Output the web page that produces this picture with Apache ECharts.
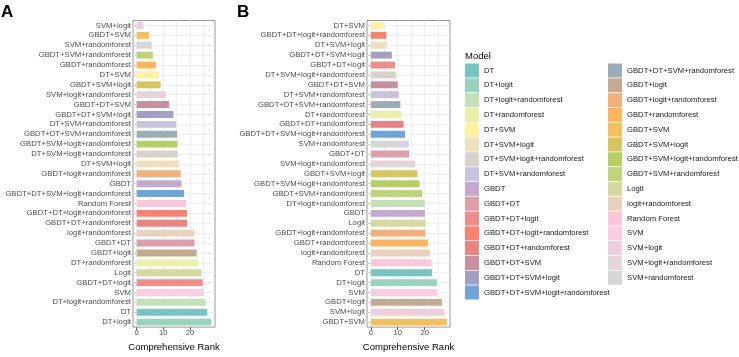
<!DOCTYPE html>
<html>
<head>
<meta charset="utf-8">
<script src="https://cdn.jsdelivr.net/npm/echarts@6/dist/echarts.min.js"></script>
<style>html,body{margin:0;padding:0;background:#fff}#c{width:739px;height:357px}</style>
</head>
<body>
<div id="c"></div>
<script>
// ---- Data ----
const modelsCol1 = ['DT','DT+logit','DT+logit+randomforest','DT+randomforest','DT+SVM','DT+SVM+logit',
  'DT+SVM+logit+randomforest','DT+SVM+randomforest','GBDT','GBDT+DT','GBDT+DT+logit',
  'GBDT+DT+logit+randomforest','GBDT+DT+randomforest','GBDT+DT+SVM','GBDT+DT+SVM+logit',
  'GBDT+DT+SVM+logit+randomforest'];
const modelsCol2 = ['GBDT+DT+SVM+randomforest','GBDT+logit','GBDT+logit+randomforest','GBDT+randomforest',
  'GBDT+SVM','GBDT+SVM+logit','GBDT+SVM+logit+randomforest','GBDT+SVM+randomforest','Logit',
  'logit+randomforest','Random Forest','SVM','SVM+logit','SVM+logit+randomforest','SVM+randomforest'];

// Panel A (top to bottom)
const catsA = ['SVM+logit','GBDT+SVM','SVM+randomforest','GBDT+SVM+randomforest','GBDT+randomforest','DT+SVM',
  'GBDT+SVM+logit','SVM+logit+randomforest','GBDT+DT+SVM','GBDT+DT+SVM+logit','DT+SVM+randomforest',
  'GBDT+DT+SVM+randomforest','GBDT+SVM+logit+randomforest','DT+SVM+logit+randomforest','DT+SVM+logit',
  'GBDT+logit+randomforest','GBDT','GBDT+DT+SVM+logit+randomforest','Random Forest',
  'GBDT+DT+logit+randomforest','GBDT+DT+randomforest','logit+randomforest','GBDT+DT','GBDT+logit',
  'DT+randomforest','Logit','GBDT+DT+logit','SVM','DT+logit+randomforest','DT','DT+logit'];
const valsA = [2.5,4.6,5.6,6.1,7.2,8.4,9.0,10.9,12.2,13.8,14.8,15.2,15.3,15.4,15.9,16.5,16.8,17.8,18.6,
  18.9,19.0,21.5,21.7,22.5,23.0,24.3,24.8,25.2,25.9,26.5,28.0];

// Panel B (top to bottom)
const catsB = ['DT+SVM','GBDT+DT+logit+randomforest','DT+SVM+logit','GBDT+DT+SVM+logit','GBDT+DT+logit',
  'DT+SVM+logit+randomforest','GBDT+DT+SVM','DT+SVM+randomforest','GBDT+DT+SVM+randomforest',
  'DT+randomforest','GBDT+DT+randomforest','GBDT+DT+SVM+logit+randomforest','SVM+randomforest','GBDT+DT',
  'SVM+logit+randomforest','GBDT+SVM+logit','GBDT+SVM+logit+randomforest','GBDT+SVM+randomforest',
  'DT+logit+randomforest','GBDT','Logit','GBDT+logit+randomforest','GBDT+randomforest','logit+randomforest',
  'Random Forest','DT','DT+logit','SVM','GBDT+logit','SVM+logit','GBDT+SVM'];
const valsB = [4.8,5.8,6.0,7.8,9.0,9.3,10.0,10.4,11.0,11.4,12.2,12.7,14.1,14.3,16.5,17.3,18.1,19.1,
  20.0,20.1,20.4,20.3,21.2,22.0,22.6,22.7,24.6,24.6,26.4,27.3,28.3];

const xTicks = [0, 10, 20];
const gridVals = [0, 5, 10, 15, 20, 25];

// ---- Styles ----
const colorsCol1 = ['#76c5c0','#98d3bd','#c2e2b5','#eaf0a8','#fff19d','#efe0bd','#d6d3c8','#c7c3dd',
  '#c3a9cf','#dc9fa8','#f08c8a','#fa8070','#ea8384','#c8909e','#a29fc0','#6ea6da'];
const colorsCol2 = ['#9dadb8','#c3ab92','#f4b07a','#fdb45c','#f3c05c','#d7c65e','#b4d064','#bcd57a',
  '#d8d7a0','#e9d2bb','#fdc6dc','#fccde0','#efcfdc','#e4d4dc','#d6d6d6'];
const colorOf = {};
modelsCol1.forEach((m,i)=>colorOf[m]=colorsCol1[i]);
modelsCol2.forEach((m,i)=>colorOf[m]=colorsCol2[i]);

const FONT = "'Liberation Sans', Arial, sans-serif";
const chart = echarts.init(document.getElementById('c'), null, {renderer:'canvas'});

function xAxisDef(idx){
  return {
    type:'value', gridIndex: idx, min:-1.4, max:29.4,
    axisLine:{show:false},
    splitLine:{show:false},
    axisTick:{show:true, length:3, customValues:xTicks, lineStyle:{color:'#333', width:0.8}},
    axisLabel:{customValues:xTicks, fontSize:7.7, color:'#4d4d4d', margin:2, fontFamily:FONT},
    name:'Comprehensive Rank', nameLocation:'middle', nameGap:14.5,
    nameTextStyle:{fontSize:9.5, color:'#000', fontFamily:FONT}
  };
}
function yAxisDef(idx, cats){
  return {
    type:'category', gridIndex: idx, data: cats, inverse:true,
    axisLine:{show:false},
    axisTick:{show:true, length:3, alignWithLabel:true, lineStyle:{color:'#333', width:0.8}},
    axisLabel:{fontSize:7.7, color:'#4d4d4d', margin:2, fontFamily:FONT, interval:0},
    splitLine:{show:false}
  };
}
function barSeries(idx, cats, vals){
  const gl = gridVals.map(v=>({xAxis:v}));
  const hl = cats.map(c=>({yAxis:c}));
  return {
    type:'bar', xAxisIndex: idx, yAxisIndex: idx, z:2,
    barCategoryGap:'30%',
    data: vals.map((v,i)=>({value:v, itemStyle:{color:colorOf[cats[i]]}})),
    animation:false,
    markLine:{
      silent:true, symbol:'none', z:1, animation:false,
      label:{show:false},
      lineStyle:{color:'#ebebeb', width:0.8, type:'solid'},
      emphasis:{disabled:true},
      data: gl.concat(hl)
    }
  };
}

const dummy = modelsCol1.concat(modelsCol2).map(m=>({
  type:'line', name:m, data:[], xAxisIndex:0, yAxisIndex:0,
  itemStyle:{color:colorOf[m]}, lineStyle:{color:colorOf[m]}, animation:false
}));

const legendBase = {
  orient:'vertical', icon:'rect', itemWidth:14, itemHeight:14, itemGap:0.8, padding:0,
  selectedMode:false, textStyle:{fontSize:7.7, color:'#1a1a1a', fontFamily:FONT}
};

chart.setOption({
  animation:false,
  textStyle:{fontFamily:FONT},
  grid:[
    {left:133, top:20.5, width:82, height:311.5, show:true, borderColor:'#7f7f7f', borderWidth:0.8, containLabel:false},
    {left:367, top:20.5, width:83, height:311.5, show:true, borderColor:'#7f7f7f', borderWidth:0.8, containLabel:false}
  ],
  xAxis:[xAxisDef(0), xAxisDef(1)],
  yAxis:[yAxisDef(0, catsA), yAxisDef(1, catsB)],
  legend:[
    Object.assign({left:465, top:63.5, data:modelsCol1}, legendBase),
    Object.assign({left:608, top:63.5, data:modelsCol2}, legendBase)
  ],
  graphic:[
    {type:'text', left:1, top:4, style:{text:'A', font:"bold 17px "+FONT, fill:'#000'}},
    {type:'text', left:237, top:4, style:{text:'B', font:"bold 17px "+FONT, fill:'#000'}},
    {type:'text', left:465, top:51, style:{text:'Model', font:"9.5px "+FONT, fill:'#000'}}
  ],
  series:[barSeries(0, catsA, valsA), barSeries(1, catsB, valsB)].concat(dummy)
});
</script>
</body>
</html>
